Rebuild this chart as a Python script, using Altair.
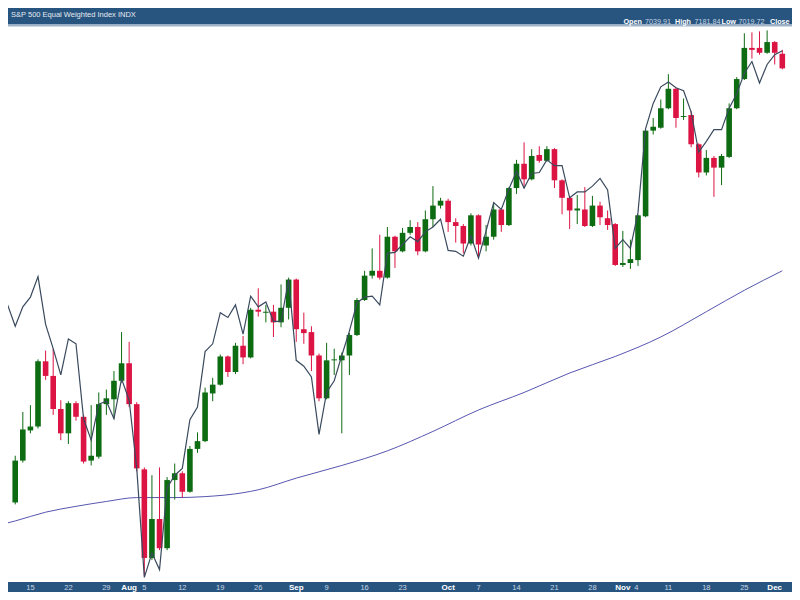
import altair as alt
import pandas as pd

# ---------------- data ----------------
holidays = ["2024-09-02", "2024-11-28"]
trading_days = [d.strftime("%Y-%m-%d") for d in pd.bdate_range("2024-07-10", "2024-12-03")
                if d.strftime("%Y-%m-%d") not in holidays]
candle_dates = trading_days[1:]  # Jul 11 .. Dec 3

opens = [6224, 6310, 6372, 6380, 6514, 6484, 6416, 6366, 6428, 6400, 6310, 6318, 6426, 6436, 6474,
         6510, 6426, 6292, 6110, 6190, 6130, 6270, 6284, 6246, 6334, 6350, 6448, 6466, 6524, 6492,
         6546, 6522, 6620, 6614, 6616, 6594, 6624, 6682, 6580, 6574, 6526, 6438, 6516, 6516, 6526,
         6568, 6640, 6690, 6700, 6686, 6770, 6740, 6778, 6790, 6740, 6806, 6834, 6844, 6800, 6792,
         6756, 6814, 6752, 6770, 6826, 6794, 6870, 6920, 6888, 6938, 6926, 6950, 6886, 6850, 6824,
         6826, 6792, 6834, 6808, 6796, 6712, 6716, 6722, 6812, 6988, 6994, 7034, 7074, 7016, 7020,
         6960, 6902, 6932, 6912, 6934, 7034, 7094, 7158, 7158, 7148, 7170, 7146]
highs = [6320, 6410, 6424, 6518, 6536, 6540, 6434, 6432, 6432, 6404, 6424, 6450, 6456, 6494, 6574,
         6554, 6430, 6296, 6280, 6296, 6276, 6304, 6288, 6340, 6368, 6460, 6480, 6528, 6526, 6552,
         6566, 6624, 6664, 6630, 6630, 6672, 6686, 6684, 6614, 6586, 6530, 6552, 6540, 6532, 6572,
         6644, 6700, 6746, 6774, 6790, 6772, 6788, 6804, 6800, 6824, 6874, 6850, 6848, 6808, 6796,
         6818, 6816, 6794, 6840, 6828, 6872, 6928, 6964, 6950, 6956, 6956, 6952, 6888, 6854, 6856,
         6872, 6854, 6842, 6824, 6798, 6782, 6764, 6816, 6990, 7014, 7052, 7104, 7076, 7054, 7028,
         6962, 6948, 6936, 6940, 7044, 7098, 7188, 7190, 7192, 7194, 7172, 7154]
lows = [6220, 6306, 6366, 6376, 6476, 6404, 6352, 6344, 6392, 6304, 6300, 6314, 6404, 6396, 6470,
        6420, 6288, 6074, 6106, 6126, 6126, 6230, 6234, 6244, 6326, 6348, 6432, 6464, 6482, 6488,
        6508, 6520, 6606, 6594, 6564, 6584, 6600, 6554, 6550, 6494, 6432, 6436, 6486, 6366, 6486,
        6566, 6638, 6684, 6682, 6684, 6706, 6738, 6774, 6732, 6738, 6790, 6828, 6780, 6758, 6736,
        6752, 6726, 6740, 6764, 6780, 6792, 6858, 6870, 6886, 6922, 6924, 6870, 6816, 6786, 6796,
        6790, 6790, 6794, 6784, 6710, 6708, 6704, 6710, 6810, 6980, 6992, 7032, 6994, 7010, 6954,
        6892, 6896, 6852, 6876, 6932, 7032, 7092, 7136, 7144, 7146, 7124, 7114]
closes = [6310, 6374, 6380, 6514, 6484, 6416, 6366, 6428, 6400, 6308, 6320, 6426, 6438, 6474, 6510,
          6426, 6294, 6110, 6190, 6130, 6270, 6284, 6246, 6334, 6350, 6450, 6466, 6524, 6492, 6546,
          6522, 6620, 6616, 6616, 6594, 6624, 6682, 6580, 6572, 6526, 6438, 6516, 6518, 6526, 6568,
          6640, 6690, 6700, 6686, 6770, 6740, 6778, 6790, 6740, 6806, 6834, 6844, 6800, 6792, 6756,
          6814, 6754, 6770, 6826, 6794, 6870, 6920, 6888, 6936, 6926, 6950, 6886, 6850, 6824, 6828,
          6792, 6834, 6810, 6794, 6712, 6716, 6724, 6814, 6988, 6996, 7034, 7074, 7014, 7018, 6960,
          6902, 6932, 6912, 6936, 7034, 7094, 7158, 7154, 7148, 7170, 7148, 7116]

# comparison index overlay (one value per trading day, Jul 10 .. Dec 3)
overlay = [6630, 6586, 6626, 6646, 6688, 6590, 6540, 6486, 6560, 6550, 6396, 6352, 6426, 6432, 6396,
           6478, 6434, 6294, 6070, 6120, 6086, 6254, 6280, 6294, 6394, 6420, 6534, 6550, 6614, 6604,
           6630, 6570, 6648, 6626, 6636, 6596, 6596, 6682, 6516, 6504, 6482, 6364, 6450, 6474, 6526,
           6576, 6634, 6646, 6648, 6630, 6736, 6738, 6754, 6770, 6760, 6780, 6790, 6806, 6742, 6740,
           6730, 6772, 6726, 6782, 6840, 6826, 6868, 6904, 6870, 6900, 6902, 6928, 6916, 6916, 6850,
           6862, 6862, 6874, 6890, 6866, 6746, 6764, 6746, 6820, 6992, 7044, 7078, 7088, 7076, 7070,
           7026, 6944, 6966, 6990, 6990, 7034, 7064, 7106, 7130, 7086, 7124, 7144, 7152]

# long moving average, read at a few dates
ma_dates = ["2024-07-10", "2024-07-11", "2024-07-17", "2024-07-23", "2024-07-29", "2024-08-02",
            "2024-08-09", "2024-08-15", "2024-08-22", "2024-08-26", "2024-09-03", "2024-09-11",
            "2024-09-19", "2024-09-27", "2024-10-07", "2024-10-15", "2024-10-23", "2024-10-31",
            "2024-11-08", "2024-11-18", "2024-11-25", "2024-12-03"]
ma_values = [6182, 6186, 6204, 6216, 6226, 6234, 6234, 6236, 6244, 6250, 6274, 6300, 6330,
             6370, 6414, 6450, 6490, 6524, 6564, 6616, 6660, 6700]

tick_dates = ["2024-07-15", "2024-07-22", "2024-07-29", "2024-08-05", "2024-08-12", "2024-08-19",
              "2024-08-26", "2024-09-09", "2024-09-16", "2024-09-23", "2024-10-07", "2024-10-14",
              "2024-10-21", "2024-10-28", "2024-11-04", "2024-11-11", "2024-11-18", "2024-11-25"]
tick_labels = ["15", "22", "29", "5", "12", "19", "26", "9", "16", "23", "7", "14", "21", "28",
               "4", "11", "18", "25"]
month_dates = ["2024-08-01", "2024-09-03", "2024-10-01", "2024-11-01", "2024-12-02"]
month_labels = ["Aug", "Sep", "Oct", "Nov", "Dec"]

title_text = "S&P 500 Equal Weighted Index  INDX"
hdr_names = ["Open", "High", "Low", "Close"]
hdr_values = ["7039.91", "7181.84", "7019.72"]

# ---------------- build tables ----------------
day_num = {d: k - 3 for k, d in enumerate(trading_days)}  # Jul 15 -> 0

candles = pd.DataFrame({"date": candle_dates, "open": opens, "high": highs,
                        "low": lows, "close": closes})
candles["day"] = candles["date"].map(day_num)
line_df = pd.DataFrame({"date": trading_days, "value": overlay})
line_df["day"] = line_df["date"].map(day_num)
ma_df = pd.DataFrame({"date": ma_dates, "value": ma_values})
ma_df["day"] = ma_df["date"].map(day_num)
ticks = pd.DataFrame({"date": tick_dates, "label": tick_labels})
ticks["day"] = ticks["date"].map(day_num)
month_days = [day_num[d] for d in month_dates]
ticks["near"] = ticks["day"].apply(lambda v: any(0 < v - m <= 1 for m in month_days))
months = pd.DataFrame({"date": month_dates, "label": month_labels})
months["day"] = months["date"].map(day_num)

W, H = 784, 584
BLUE = "#285580"
GREEN = "#0d6b12"
RED = "#dc1443"
FONT = "Liberation Sans"

xs = alt.Scale(domain=[-2.293, 99.618], nice=False, zero=False)
ys = alt.Scale(domain=[6040, 7240], nice=False, zero=False)
X = alt.X("day:Q", scale=xs, axis=None)
updown = alt.when(alt.datum.close >= alt.datum.open).then(alt.value(GREEN)).otherwise(alt.value(RED))

wicks = alt.Chart(candles).mark_rule(strokeWidth=1).encode(
    x=X, y=alt.Y("low:Q", scale=ys, axis=None), y2="high:Q", color=updown)
bodies = alt.Chart(candles).mark_bar(width=5.6).encode(
    x=X, y=alt.Y("open:Q", scale=ys, axis=None), y2="close:Q", color=updown)
ma_line = alt.Chart(ma_df).mark_line(color="#5656b0", strokeWidth=1, interpolate="monotone",
                                     clip=True).encode(
    x=X, y=alt.Y("value:Q", scale=ys, axis=None))
ov_line = alt.Chart(line_df).mark_line(color="#3a4a5e", strokeWidth=1.2, clip=True).encode(
    x=X, y=alt.Y("value:Q", scale=ys, axis=None))

one = pd.DataFrame({"k": [0]})
top_bar = alt.Chart(one).mark_rect(color=BLUE).encode(
    x=alt.value(0), x2=alt.value(W), y=alt.value(0), y2=alt.value(16.6))
top_edge = alt.Chart(one).mark_rect(color="#9fb4c9").encode(
    x=alt.value(0), x2=alt.value(W), y=alt.value(16.6), y2=alt.value(18.4))
bot_bar = alt.Chart(one).mark_rect(color=BLUE).encode(
    x=alt.value(0), x2=alt.value(W), y=alt.value(574), y2=alt.value(H))

title = alt.Chart(pd.DataFrame({"t": [title_text]})).mark_text(
    align="left", baseline="alphabetic", fontSize=7.5, font=FONT, color="#e4ebf2").encode(
    x=alt.value(3), y=alt.value(9.2), text="t:N")

hdr_layers = []
name_x = [615.5, 667.0, 713.5, 762.0]
val_x = [637.0, 686.5, 730.5]
for n, xp in zip(hdr_names, name_x):
    hdr_layers.append(alt.Chart(pd.DataFrame({"t": [n]})).mark_text(
        align="left", baseline="alphabetic", fontSize=7.2, fontWeight="bold", font=FONT,
        color="#ffffff").encode(x=alt.value(xp), y=alt.value(16.3), text="t:N"))
for v, xp in zip(hdr_values, val_x):
    hdr_layers.append(alt.Chart(pd.DataFrame({"t": [v]})).mark_text(
        align="left", baseline="alphabetic", fontSize=7.2, font=FONT,
        color="#c9d6e3").encode(x=alt.value(xp), y=alt.value(16.3), text="t:N"))

day_lab = alt.Chart(ticks).transform_filter("!datum.near").mark_text(
    align="center", baseline="alphabetic", fontSize=7.5, font=FONT, color="#c9d6e3").encode(
    x=X, y=alt.value(582), text="label:N")
day_lab_shift = alt.Chart(ticks).transform_filter("datum.near").mark_text(
    align="center", baseline="alphabetic", fontSize=7.5, font=FONT, color="#c9d6e3", dx=6).encode(
    x=X, y=alt.value(582), text="label:N")
mon_lab = alt.Chart(months).mark_text(
    align="center", baseline="alphabetic", fontSize=8, fontWeight="bold", font=FONT,
    color="#ffffff").encode(x=X, y=alt.value(582), text="label:N")

chart = alt.layer(
    ma_line, wicks, bodies, ov_line, top_bar, top_edge, bot_bar, title, *hdr_layers,
    day_lab, day_lab_shift, mon_lab
).properties(
    width=W, height=H, padding=0,
    autosize=alt.AutoSizeParams(type="none", contains="padding"),
).configure_view(stroke=None)

chart.save("out.html", embed_options={"renderer": "svg", "actions": False})
